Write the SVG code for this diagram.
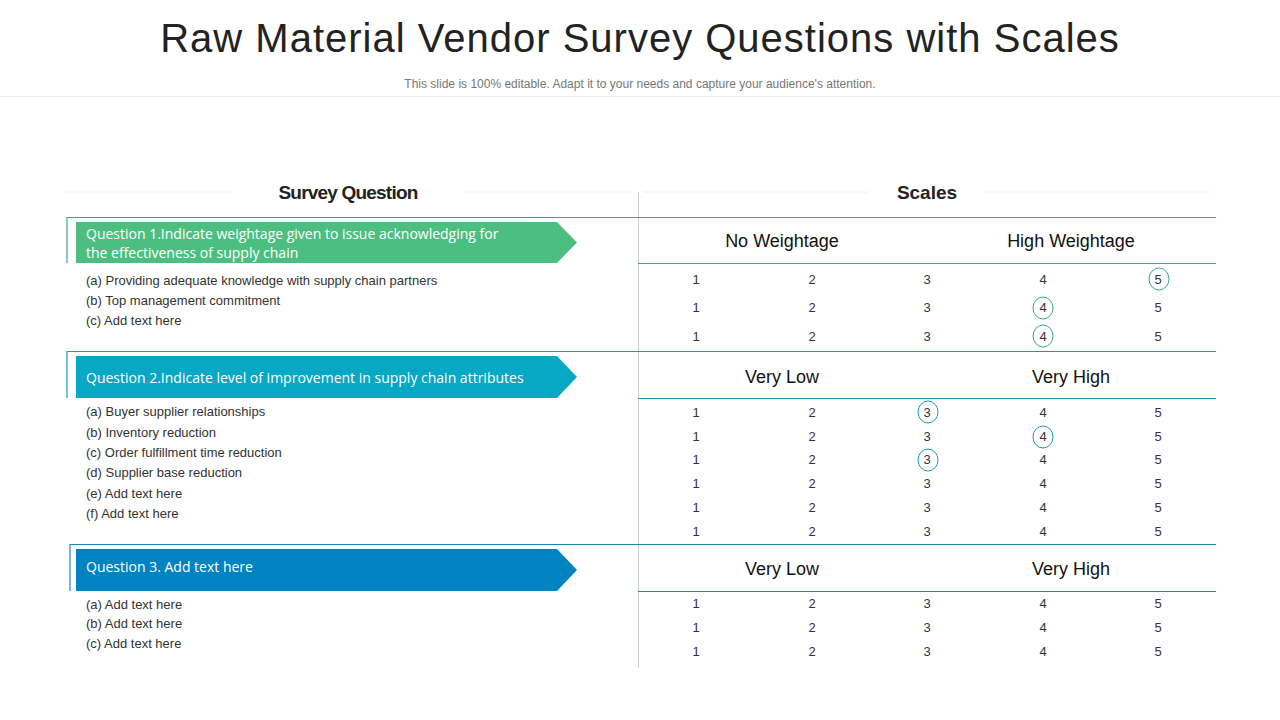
<svg xmlns="http://www.w3.org/2000/svg" width="1280" height="720" viewBox="0 0 1280 720">
<style>
.t{font-family:"Liberation Sans",Arial,sans-serif}
.it{font-family:"Liberation Sans",Arial,sans-serif;font-size:13px;fill:#333}
.n{font-family:"Liberation Sans",Arial,sans-serif;font-size:13px;fill:#333;text-anchor:middle}
.h{font-family:"Liberation Sans",Arial,sans-serif;font-size:18px;fill:#111;text-anchor:middle}
.q{font-family:"Open Sans","Liberation Sans",sans-serif;font-size:14px;fill:#fff}
.band{fill:none;stroke-width:1.2}
.c{fill:none;stroke:#3aaa7a;stroke-width:1}
.c2{fill:none;stroke:#1a9aaa;stroke-width:1}
</style>
<rect width="1280" height="720" fill="#fff"/>
<text class="t" x="640" y="52" font-size="40" text-anchor="middle" fill="#222" letter-spacing="1">Raw Material Vendor Survey Questions with Scales</text>
<text class="t" x="640" y="88" font-size="12" text-anchor="middle" fill="#777">This slide is 100% editable. Adapt  it to your needs and capture your audience's attention.</text>
<line x1="0" y1="96.500" x2="1280" y2="96.500" stroke="#eee"/>
<g id="headers">
<line x1="65" y1="192" x2="232" y2="192" stroke="#eee"/>
<line x1="463" y1="192" x2="632" y2="192" stroke="#eee"/>
<line x1="643" y1="192" x2="868" y2="192" stroke="#eee"/>
<line x1="985" y1="192" x2="1210" y2="192" stroke="#eee"/>
<text class="t" x="348" y="199" font-size="19" font-weight="bold" text-anchor="middle" fill="#222" letter-spacing="-0.8">Survey Question</text>
<text class="t" x="927" y="199" font-size="19" font-weight="bold" text-anchor="middle" fill="#222">Scales</text>
<line x1="638.500" y1="192" x2="638.500" y2="668" stroke="#ccc"/>
</g>
<g id="q1">
<path d="M67 263V217.500H1216M638 263.500H1216" class="band" stroke="#3aaa8a"/>
<polygon points="76,222 557,222 577,242.500 557,263 76,263" fill="#4cbf80"/>
<text class="q" x="86" y="239">Question 1.Indicate weightage given to issue acknowledging for</text>
<text class="q" x="86" y="258">the effectiveness of supply chain</text>
<text class="h" x="782" y="247">No Weightage</text>
<text class="h" x="1071" y="247">High Weightage</text>
<text class="it" x="86" y="285">(a) Providing adequate knowledge with supply chain  partners</text>
<text class="it" x="86" y="305">(b) Top management commitment</text>
<text class="it" x="86" y="325">(c) Add text here</text>
<g class="n"><text x="696" y="284">1</text><text x="812" y="284">2</text><text x="927" y="284">3</text><text x="1043" y="284">4</text><text x="1158" y="284">5</text>
<text x="696" y="312">1</text><text x="812" y="312">2</text><text x="927" y="312">3</text><text x="1043" y="312">4</text><text x="1158" y="312">5</text>
<text x="696" y="341">1</text><text x="812" y="341">2</text><text x="927" y="341">3</text><text x="1043" y="341">4</text><text x="1158" y="341">5</text></g>
<ellipse class="c" cx="1159" cy="279" rx="10" ry="11"/>
<ellipse class="c" cx="1043" cy="308" rx="10" ry="11"/>
<ellipse class="c" cx="1043" cy="336" rx="10" ry="11"/>
</g>
<g id="q2">
<path d="M67 398V351.500H1216M638 398.500H1216" class="band" stroke="#1a9aaa"/>
<polygon points="76,356 557,356 577,377 557,398 76,398" fill="#06a8c4"/>
<text class="q" x="86" y="383">Question 2.Indicate level of improvement in supply chain attributes</text>
<text class="h" x="782" y="383">Very Low</text>
<text class="h" x="1071" y="383">Very High</text>
<text class="it" x="86" y="416">(a) Buyer supplier relationships</text>
<text class="it" x="86" y="437">(b) Inventory reduction</text>
<text class="it" x="86" y="457">(c) Order fulfillment  time reduction</text>
<text class="it" x="86" y="477">(d) Supplier base reduction</text>
<text class="it" x="86" y="498">(e) Add text here</text>
<text class="it" x="86" y="518">(f) Add text here</text>
<g class="n"><text x="696" y="417">1</text><text x="812" y="417">2</text><text x="927" y="417">3</text><text x="1043" y="417">4</text><text x="1158" y="417">5</text>
<text x="696" y="441">1</text><text x="812" y="441">2</text><text x="927" y="441">3</text><text x="1043" y="441">4</text><text x="1158" y="441">5</text>
<text x="696" y="464">1</text><text x="812" y="464">2</text><text x="927" y="464">3</text><text x="1043" y="464">4</text><text x="1158" y="464">5</text>
<text x="696" y="488">1</text><text x="812" y="488">2</text><text x="927" y="488">3</text><text x="1043" y="488">4</text><text x="1158" y="488">5</text>
<text x="696" y="512">1</text><text x="812" y="512">2</text><text x="927" y="512">3</text><text x="1043" y="512">4</text><text x="1158" y="512">5</text>
<text x="696" y="536">1</text><text x="812" y="536">2</text><text x="927" y="536">3</text><text x="1043" y="536">4</text><text x="1158" y="536">5</text></g>
<ellipse class="c2" cx="928" cy="412" rx="10" ry="11"/>
<ellipse class="c2" cx="1043" cy="437" rx="10" ry="11"/>
<ellipse class="c2" cx="928" cy="460" rx="10" ry="11"/>
</g>
<g id="q3">
<path d="M70 591V544.500H1216M638 591.500H1216" class="band" stroke="#1a8aaa"/>
<polygon points="76,549 557,549 577,570 557,591 76,591" fill="#0083c0"/>
<text class="q" x="86" y="572">Question 3. Add text here</text>
<text class="h" x="782" y="575">Very Low</text>
<text class="h" x="1071" y="575">Very High</text>
<text class="it" x="86" y="609">(a) Add text here</text>
<text class="it" x="86" y="628">(b) Add text here</text>
<text class="it" x="86" y="648">(c) Add text here</text>
<g class="n"><text x="696" y="608">1</text><text x="812" y="608">2</text><text x="927" y="608">3</text><text x="1043" y="608">4</text><text x="1158" y="608">5</text>
<text x="696" y="632">1</text><text x="812" y="632">2</text><text x="927" y="632">3</text><text x="1043" y="632">4</text><text x="1158" y="632">5</text>
<text x="696" y="656">1</text><text x="812" y="656">2</text><text x="927" y="656">3</text><text x="1043" y="656">4</text><text x="1158" y="656">5</text></g>
</g>
<g id="connectors"/>
</svg>
